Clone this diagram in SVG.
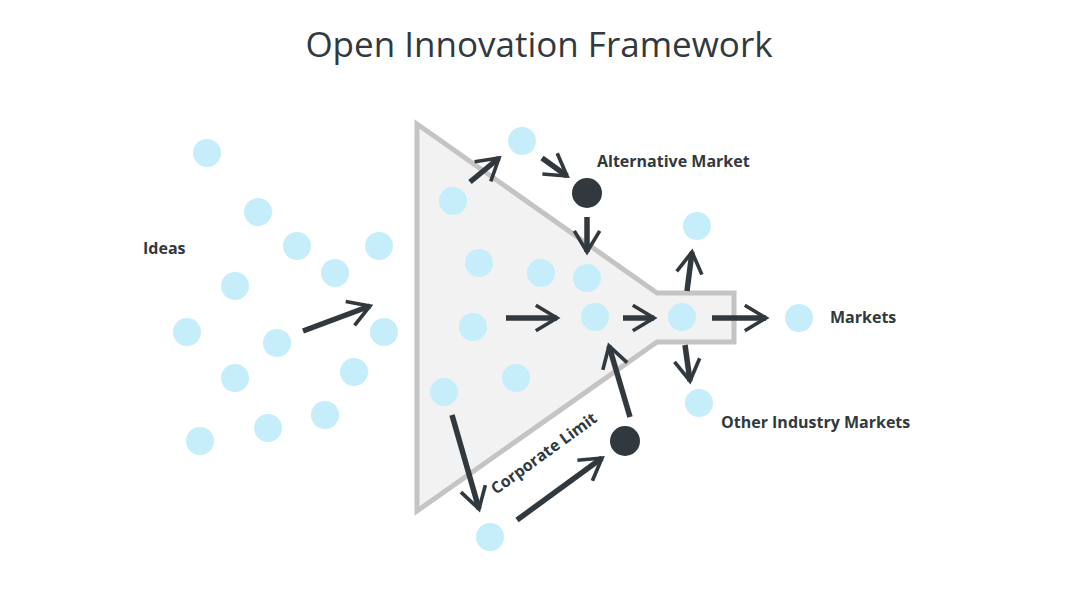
<svg xmlns="http://www.w3.org/2000/svg" width="1080" height="608" viewBox="0 0 1080 608">
<style>
.dot{fill:#c5eefa}
.blk{fill:#31393e}
.arr{fill:none;stroke:#31393e;stroke-width:5.5;stroke-linecap:butt;stroke-linejoin:miter}
.lbl{font-family:"Open Sans","Liberation Sans",sans-serif;font-weight:bold;font-size:16px;fill:#31393e}
.title{font-family:"Open Sans","Liberation Sans",sans-serif;font-size:35px;fill:#31393e}
</style>
<defs>
<marker id="ah" viewBox="0 0 10 10" refX="8" refY="5" markerWidth="5.5" markerHeight="5.5" markerUnits="strokeWidth" orient="auto">
<polyline points="1,0.8 8,5 1,9.2" fill="none" stroke="#31393e" stroke-width="1.2"/>
</marker>
</defs>
<rect width="1080" height="608" fill="#ffffff"/>
<text class="title" x="539" y="57" text-anchor="middle">Open Innovation Framework</text>
<g id="funnel">
<polygon points="417,124 657,293 734,293 734,342 657,342 417,511" fill="#f2f2f2" stroke="#c4c4c4" stroke-width="5"/>
</g>
<g id="ideas">
<circle class="dot" cx="207" cy="153" r="14"/>
<circle class="dot" cx="258" cy="212" r="14"/>
<circle class="dot" cx="297" cy="246" r="14"/>
<circle class="dot" cx="379" cy="246" r="14"/>
<circle class="dot" cx="335" cy="273" r="14"/>
<circle class="dot" cx="235" cy="286" r="14"/>
<circle class="dot" cx="187" cy="332" r="14"/>
<circle class="dot" cx="277" cy="343" r="14"/>
<circle class="dot" cx="384" cy="332" r="14"/>
<circle class="dot" cx="235" cy="378" r="14"/>
<circle class="dot" cx="354" cy="372" r="14"/>
<circle class="dot" cx="325" cy="415" r="14"/>
<circle class="dot" cx="268" cy="428" r="14"/>
<circle class="dot" cx="200" cy="441" r="14"/>
<text class="lbl" x="143" y="254">Ideas</text>
</g>
<g id="inner">
<circle class="dot" cx="453" cy="201" r="14"/>
<circle class="dot" cx="479" cy="263" r="14"/>
<circle class="dot" cx="541" cy="273" r="14"/>
<circle class="dot" cx="587" cy="278" r="14"/>
<circle class="dot" cx="473" cy="327" r="14"/>
<circle class="dot" cx="595" cy="317" r="14"/>
<circle class="dot" cx="682" cy="317" r="14"/>
<circle class="dot" cx="444" cy="392" r="14"/>
<circle class="dot" cx="516" cy="378" r="14"/>
</g>
<g id="alt-market">
<circle class="dot" cx="522" cy="141" r="14"/>
<circle class="blk" cx="587" cy="193" r="15"/>
<text class="lbl" x="597" y="167">Alternative Market</text>
</g>
<g id="markets">
<circle class="dot" cx="697" cy="226" r="14"/>
<circle class="dot" cx="799" cy="318" r="14"/>
<text class="lbl" x="830" y="323">Markets</text>
</g>
<g id="other-markets">
<circle class="dot" cx="699" cy="403" r="14"/>
<text class="lbl" x="721" y="428">Other Industry Markets</text>
</g>
<g id="corporate-limit">
<circle class="dot" cx="490" cy="537" r="14"/>
<circle class="blk" cx="625" cy="441" r="15"/>
<text class="lbl" transform="translate(496,495) rotate(-36)">Corporate Limit</text>
</g>
<g id="connectors">
<line class="arr" x1="303" y1="331" x2="370" y2="306" marker-end="url(#ah)"/>
<line class="arr" x1="470" y1="182" x2="499" y2="158" marker-end="url(#ah)"/>
<line class="arr" x1="542" y1="158" x2="567" y2="176" marker-end="url(#ah)"/>
<line class="arr" x1="587" y1="217" x2="587" y2="252" marker-end="url(#ah)"/>
<line class="arr" x1="506" y1="318" x2="557" y2="318" marker-end="url(#ah)"/>
<line class="arr" x1="623" y1="318" x2="654" y2="318" marker-end="url(#ah)"/>
<line class="arr" x1="712" y1="318" x2="766" y2="318" marker-end="url(#ah)"/>
<line class="arr" x1="687" y1="291" x2="692" y2="252" marker-end="url(#ah)"/>
<line class="arr" x1="685" y1="345" x2="690" y2="381" marker-end="url(#ah)"/>
<line class="arr" x1="452" y1="415" x2="479" y2="509" marker-end="url(#ah)"/>
<line class="arr" x1="517" y1="520" x2="602" y2="458" marker-end="url(#ah)"/>
<line class="arr" x1="630" y1="417" x2="609" y2="346" marker-end="url(#ah)"/>
</g>
</svg>
